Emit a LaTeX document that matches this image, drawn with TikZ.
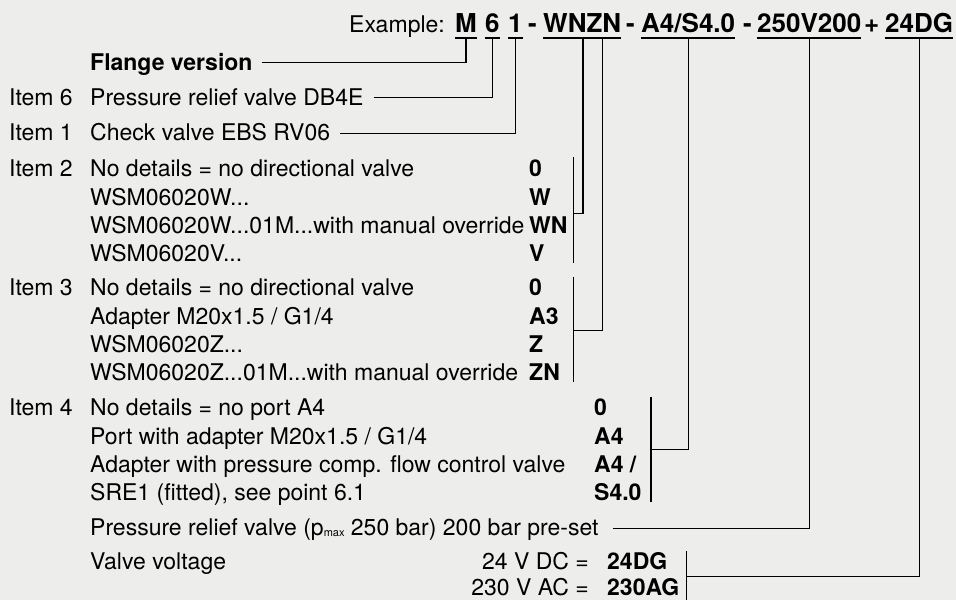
\documentclass[tikz,border=0pt]{standalone}
\usepackage{fontspec}
\setmainfont{TeX Gyre Heros}
\usetikzlibrary{calc}
\definecolor{bggray}{RGB}{237,238,236}
\newcommand{\bodysize}{\fontsize{23}{27}\selectfont}
\newcommand{\topsize}{\fontsize{26}{30}\selectfont\bfseries}

\begin{document}
\begin{tikzpicture}[x=1pt,y=-1pt,
    txt/.style={anchor=base west,inner sep=0pt,text height=15pt,text depth=0pt,font=\bodysize},
    code/.style={txt,font=\bodysize\bfseries},
    top/.style={anchor=base west,inner sep=0pt,text depth=5pt,font=\topsize},
    ln/.style={line width=1.1pt},
    uline/.style={line width=2pt}]
  \fill[bggray,use as bounding box] (0,0) rectangle (956,600);

  \node[txt] (ex) at (349,32.3) {Example:};
  \node[top] (m) at (455,32.3) {M};
  \node[top] (six) at (485,32.3) {6};
  \node[top] (one) at (508,32.3) {1};
  \node[top] (s1) at (528,32.3) {-};
  \node[top] (wnzn) at (543,32.3) {WNZN};
  \node[top] (s2) at (626,32.3) {-};
  \node[top] (a4) at (641,32.3) {A4/S4.0};
  \node[top] (s3) at (743,32.3) {-};
  \node[top] (pv) at (757,32.3) {250V200};
  \node[top] (s4) at (864,32.3) {+};
  \node[top] (dg) at (885,32.3) {24DG};
  \foreach \n in {m,six,one,wnzn,a4,pv,dg}
    \draw[uline] (\n.south west) -- (\n.south east);

  \node[code] (flange) at (90,70.2) {Flange version};
  \node[txt] (i6) at (9,105.2) {Item 6};
  \node[txt] (db4e) at (90,105.2) {Pressure relief valve DB4E};
  \node[txt] (i1) at (9,140.8) {Item 1};
  \node[txt] (rv06) at (90,140.8) {Check valve EBS RV06};

  \node[txt] (i2) at (9,176.7) {Item 2};
  \node[txt] (d2a) at (90,176.7) {No details = no directional valve};
  \node[txt] (d2b) at (90,205) {WSM06020W...};
  \node[txt] (d2c) at (90,233.3) {WSM06020W...01M...with manual override};
  \node[txt] (d2d) at (90,261.7) {WSM06020V...};
  \node[code] (c2a) at (529,176.7) {0};
  \node[code] (c2b) at (529,205) {W};
  \node[code] (c2c) at (529,233.3) {WN};
  \node[code] (c2d) at (529,261.7) {V};

  \node[txt] (i3) at (9,295.7) {Item 3};
  \node[txt] (d3a) at (90,295.7) {No details = no directional valve};
  \node[txt] (d3b) at (90,324) {Adapter M20x1.5 / G1/4};
  \node[txt] (d3c) at (90,352.3) {WSM06020Z...};
  \node[txt] (d3d) at (90,380.7) {WSM06020Z...01M...with manual override};
  \node[code] (c3a) at (529,295.7) {0};
  \node[code] (c3b) at (529,324) {A3};
  \node[code] (c3c) at (529,352.3) {Z};
  \node[code] (c3d) at (529,380.7) {ZN};

  \node[txt] (i4) at (9,415.7) {Item 4};
  \node[txt] (d4a) at (90,415.7) {No details = no port A4};
  \node[txt] (d4b) at (90,444) {Port with adapter M20x1.5 / G1/4};
  \node[txt] (d4c) at (90,472.3) {Adapter with pressure comp. flow control valve};
  \node[txt] (d4d) at (90,500.7) {SRE1 (fitted), see point 6.1};
  \node[code] (c4a) at (594,415.7) {0};
  \node[code] (c4b) at (594,444) {A4};
  \node[code] (c4c) at (594,472.3) {A4 /};
  \node[code] (c4d) at (594,500.7) {S4.0};

  \node[txt] (prv) at (90,535.8) {Pressure relief valve
    (p\raisebox{-1pt}{\fontsize{11}{11}\selectfont max} 250 bar) 200 bar pre-set};
  \node[txt] (vv) at (90,569.5) {Valve voltage};
  \node[txt,anchor=base east] (dc) at (589,569.5) {24 V DC =};
  \node[code] (dgc) at (607,569.5) {24DG};
  \node[txt,anchor=base east] (ac) at (589,595.5) {230 V AC =};
  \node[code] (agc) at (607,595.5) {230AG};

  \coordinate (b2a) at (573.3,157);
  \coordinate (b2b) at (573.3,262.7);
  \coordinate (b2m) at (573.3,213.3);
  \coordinate (b3a) at (573.3,276.7);
  \coordinate (b3b) at (573.3,381.7);
  \coordinate (b3m) at (573.3,330.7);
  \coordinate (b4a) at (651,396.7);
  \coordinate (b4b) at (651,501.7);
  \coordinate (b4m) at (651,449.3);
  \coordinate (b5a) at (686.7,551);
  \coordinate (b5b) at (686.7,600);
  \coordinate (b5m) at (686.7,576.3);
  \foreach \b in {b2,b3,b4,b5}
    \draw[ln] (\b a) -- (\b b);

  \draw[ln] ([xshift=9pt]flange.east) -| (m.south);
  \draw[ln] ([xshift=10pt]db4e.east) -| (six.south);
  \draw[ln] ([xshift=10pt]rv06.east) -| (one.south);
  \draw[ln] ($(wnzn.south west)!0.51!(wnzn.south east)$) |- (b2m);
  \draw[ln] ($(wnzn.south west)!0.76!(wnzn.south east)$) |- (b3m);
  \draw[ln] (a4.south) |- (b4m);
  \draw[ln] ([xshift=14pt]prv.east) -| (pv.south);
  \draw[ln] (dg.south) |- (b5m);
\end{tikzpicture}
\end{document}
